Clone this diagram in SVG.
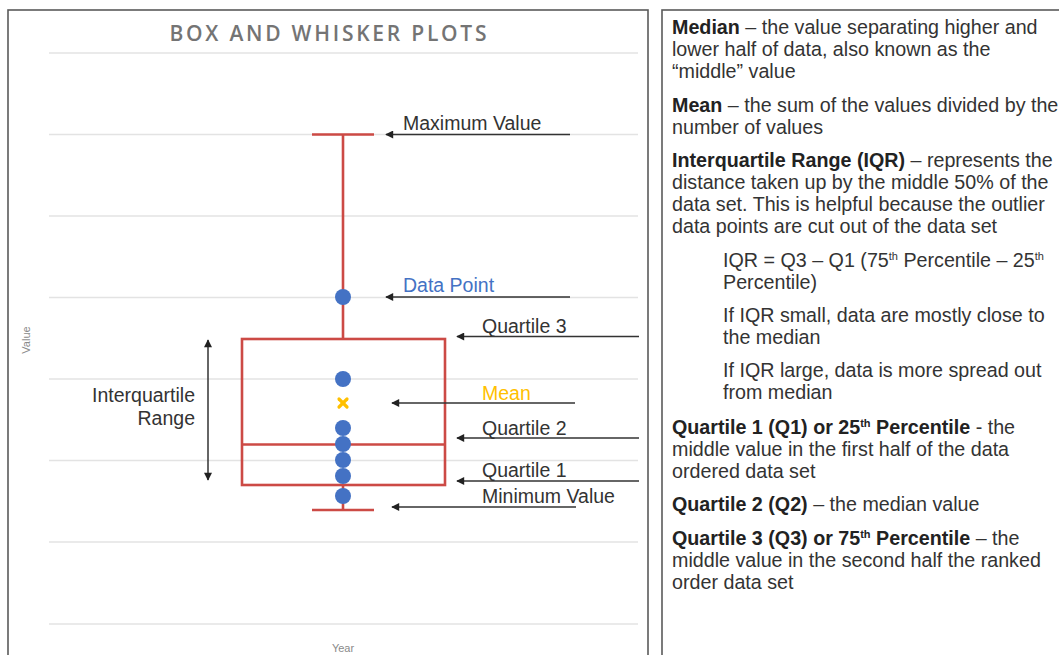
<svg xmlns="http://www.w3.org/2000/svg" width="1059" height="655" viewBox="0 0 1059 655">
<style>
.panel{fill:#fff;stroke:#5a5a5a;stroke-width:1.6}
.grid{stroke:#e3e3e3;stroke-width:1.3}
.red{stroke:#cc4a45;stroke-width:2.6;fill:none}
.dot{fill:#4472c4}
.lbl{font-family:"Liberation Sans",Arial,sans-serif;font-size:19.5px;fill:#333}
.ax{font-family:"Liberation Sans",Arial,sans-serif;font-size:11px;fill:#8a8a8a}
.conn{stroke:#333;stroke-width:1.5;fill:none}
.txt{font-family:"Liberation Sans",Arial,sans-serif;font-size:19.7px;fill:#333}
.b{font-weight:bold;fill:#222}
.sup{font-size:11px}
</style>
<defs>
<marker id="ah" viewBox="0 0 10 10" refX="9" refY="5" markerWidth="9" markerHeight="8" markerUnits="userSpaceOnUse" orient="auto-start-reverse">
<path d="M0,0 L10,5 L0,10 z" fill="#222"/>
</marker>
</defs>
<rect x="0" y="0" width="1059" height="655" fill="#fff"/>
<g id="chart-panel">
<rect class="panel" x="8" y="10" width="640" height="660"/>
<text x="328" y="41" text-anchor="middle" font-family="'Open Sans',sans-serif" font-weight="600" font-size="21" fill="#747474" textLength="317" lengthAdjust="spacing">BOX AND WHISKER PLOTS</text>
<g id="gridlines">
<line class="grid" x1="49" y1="53" x2="638" y2="53"/>
<line class="grid" x1="49" y1="134.5" x2="638" y2="134.5"/>
<line class="grid" x1="49" y1="216" x2="638" y2="216"/>
<line class="grid" x1="49" y1="297.5" x2="638" y2="297.5"/>
<line class="grid" x1="49" y1="379" x2="638" y2="379"/>
<line class="grid" x1="49" y1="460.5" x2="638" y2="460.5"/>
<line class="grid" x1="49" y1="542" x2="638" y2="542"/>
<line class="grid" x1="49" y1="624" x2="638" y2="624"/>
</g>
<text class="ax" x="0" y="0" transform="translate(30 340) rotate(-90)" text-anchor="middle">Value</text>
<text class="ax" x="343" y="652" text-anchor="middle">Year</text>
</g>
<g id="box-plot">
<line class="red" x1="312" y1="134.5" x2="374" y2="134.5"/>
<line class="red" x1="343" y1="134.5" x2="343" y2="339"/>
<rect class="red" x="242" y="339" width="203" height="146"/>
<line class="red" x1="242" y1="444.5" x2="445" y2="444.5"/>
<line class="red" x1="343" y1="485" x2="343" y2="510"/>
<line class="red" x1="312" y1="510" x2="374" y2="510"/>
</g>
<g id="data-points">
<circle class="dot" cx="343" cy="297" r="8"/>
<circle class="dot" cx="343" cy="379" r="8"/>
<circle class="dot" cx="343" cy="428" r="8"/>
<circle class="dot" cx="343" cy="444" r="8"/>
<circle class="dot" cx="343" cy="460" r="8"/>
<circle class="dot" cx="343" cy="476" r="8"/>
<circle class="dot" cx="343" cy="496" r="8"/>
</g>
<g id="mean-marker" stroke="#ffc000" stroke-width="3.2" stroke-linecap="round">
<line x1="339" y1="399" x2="347" y2="407"/>
<line x1="347" y1="399" x2="339" y2="407"/>
</g>
<g id="label-maximum"><text class="lbl" x="403" y="130">Maximum Value</text></g>
<g id="label-datapoint"><text class="lbl" x="403" y="292" style="fill:#4472c4">Data Point</text></g>
<g id="label-q3"><text class="lbl" x="482" y="333">Quartile 3</text></g>
<g id="label-mean"><text class="lbl" x="482" y="400" style="fill:#ffc000">Mean</text></g>
<g id="label-q2"><text class="lbl" x="482" y="435">Quartile 2</text></g>
<g id="label-q1"><text class="lbl" x="482" y="477">Quartile 1</text></g>
<g id="label-minimum"><text class="lbl" x="482" y="503">Minimum Value</text></g>
<g id="label-iqr">
<text class="lbl" x="195" y="402" text-anchor="end">Interquartile</text>
<text class="lbl" x="195" y="425" text-anchor="end">Range</text>
</g>
<g id="connectors">
<line class="conn" x1="570" y1="134.5" x2="386" y2="134.5" marker-end="url(#ah)"/>
<line class="conn" x1="570" y1="297" x2="386" y2="297" marker-end="url(#ah)"/>
<line class="conn" x1="639" y1="336.5" x2="457" y2="336.5" marker-end="url(#ah)"/>
<line class="conn" x1="575" y1="403" x2="392" y2="403" marker-end="url(#ah)"/>
<line class="conn" x1="639" y1="438" x2="457" y2="438" marker-end="url(#ah)"/>
<line class="conn" x1="639" y1="481" x2="457" y2="481" marker-end="url(#ah)"/>
<line class="conn" x1="576" y1="507" x2="392" y2="507" marker-end="url(#ah)"/>
<line class="conn" x1="208" y1="340" x2="208" y2="480" marker-start="url(#ah)" marker-end="url(#ah)"/>
</g>
<g id="definitions-panel">
<rect class="panel" x="662" y="10" width="420" height="660"/>
<text class="txt" x="672" y="34"><tspan class="b">Median</tspan> – the value separating higher and</text>
<text class="txt" x="672" y="56">lower half of data, also known as the</text>
<text class="txt" x="672" y="78">“middle” value</text>
<text class="txt" x="672" y="112"><tspan class="b">Mean</tspan> – the sum of the values divided by the</text>
<text class="txt" x="672" y="134">number of values</text>
<text class="txt" x="672" y="167"><tspan class="b">Interquartile Range (IQR)</tspan> – represents the</text>
<text class="txt" x="672" y="189">distance taken up by the middle 50% of the</text>
<text class="txt" x="672" y="211">data set. This is helpful because the outlier</text>
<text class="txt" x="672" y="233">data points are cut out of the data set</text>
<text class="txt" x="723" y="267">IQR = Q3 – Q1 (75<tspan class="sup" dy="-7">th</tspan><tspan dy="7"> Percentile – 25</tspan><tspan class="sup" dy="-7">th</tspan></text>
<text class="txt" x="723" y="289">Percentile)</text>
<text class="txt" x="723" y="322">If IQR small, data are mostly close to</text>
<text class="txt" x="723" y="344">the median</text>
<text class="txt" x="723" y="377">If IQR large, data is more spread out</text>
<text class="txt" x="723" y="399">from median</text>
<text class="txt" x="672" y="434"><tspan class="b">Quartile 1 (Q1) or 25</tspan><tspan class="b sup" dy="-7">th</tspan><tspan class="b" dy="7"> Percentile</tspan> - the</text>
<text class="txt" x="672" y="456">middle value in the first half of the data</text>
<text class="txt" x="672" y="478">ordered data set</text>
<text class="txt" x="672" y="511"><tspan class="b">Quartile 2 (Q2)</tspan> – the median value</text>
<text class="txt" x="672" y="545"><tspan class="b">Quartile 3 (Q3) or 75</tspan><tspan class="b sup" dy="-7">th</tspan><tspan class="b" dy="7"> Percentile</tspan> – the</text>
<text class="txt" x="672" y="567">middle value in the second half the ranked</text>
<text class="txt" x="672" y="589">order data set</text>
</g>
</svg>
